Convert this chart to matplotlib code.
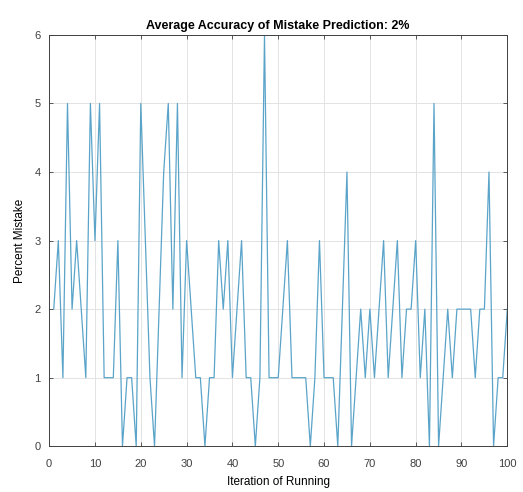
import matplotlib
matplotlib.use("Agg")
import matplotlib.pyplot as plt

plt.rcParams['font.family'] = ['Liberation Sans', 'DejaVu Sans']

iterations = list(range(1, 101))
percent_mistake = [
    2, 3, 1, 5, 2, 3, 2, 1, 5, 3,
    5, 1, 1, 1, 3, 0, 1, 1, 0, 5,
    3, 1, 0, 2, 4, 5, 2, 5, 1, 3,
    2, 1, 1, 0, 1, 1, 3, 2, 3, 1,
    2, 3, 1, 1, 0, 1, 6, 1, 1, 1,
    2, 3, 1, 1, 1, 1, 0, 1, 3, 1,
    1, 1, 0, 2, 4, 0, 1, 2, 1, 2,
    1, 2, 3, 1, 2, 3, 1, 2, 2, 3,
    1, 2, 0, 5, 0, 1, 2, 1, 2, 2,
    2, 2, 1, 2, 2, 4, 0, 1, 1, 2,
]
xticks = list(range(0, 101, 10))
yticks = list(range(0, 7))

fig = plt.figure(figsize=(5.23, 4.92), dpi=100)
ax = fig.add_axes([0.094, 0.093, 0.876, 0.836])
ax.plot(iterations, percent_mistake, color='#5ba4c9', linewidth=0.9)

ax.set_xlim(0, 100)
ax.set_ylim(0, 6)
ax.set_xticks(xticks)
ax.set_yticks(yticks)
ax.grid(True, color='#e3e3e3', linewidth=0.7)
ax.tick_params(direction='in', top=True, right=True, length=3, labelsize=8,
               colors='#404040', width=0.6)
ax.tick_params(axis='x', pad=9)
ax.tick_params(axis='y', pad=6)
for s in ax.spines.values():
    s.set_color('#404040')
    s.set_linewidth(0.7)

ax.set_title('Average Accuracy of Mistake Prediction: 2%', fontsize=9,
             fontweight='bold', pad=4)
ax.set_xlabel('Iteration of Running', fontsize=8.5, labelpad=5)
ax.set_ylabel('Percent Mistake', fontsize=8.5, labelpad=6)

fig.savefig('out.png', dpi=100)
